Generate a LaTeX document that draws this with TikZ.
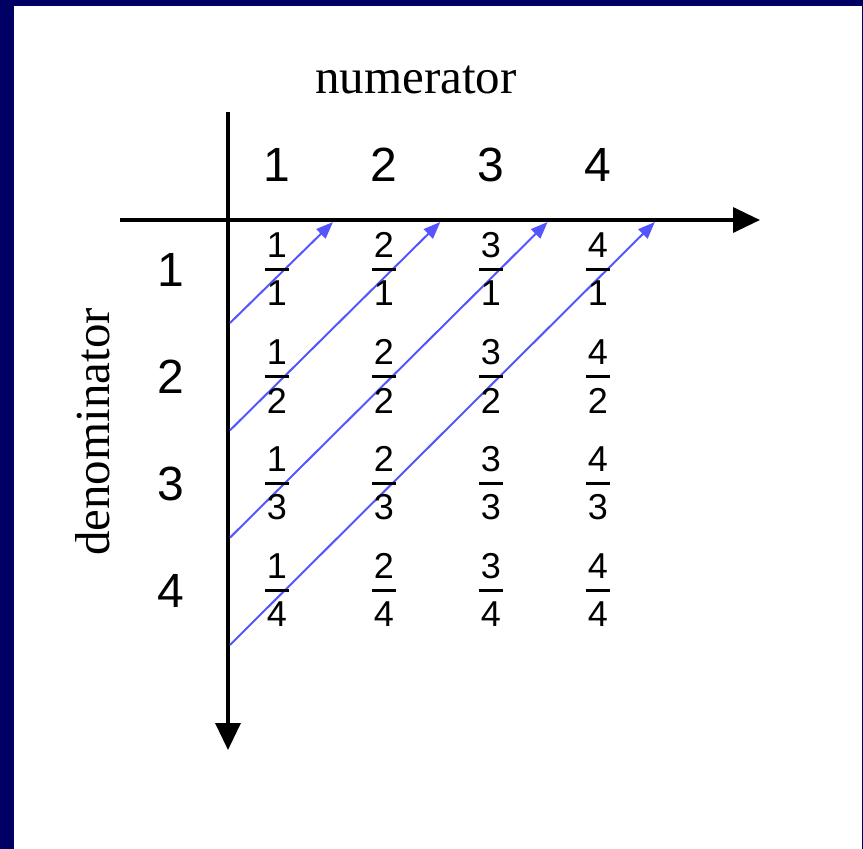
\documentclass[tikz,border=0pt]{standalone}
\usepackage{fontspec}
\setmainfont{Liberation Serif}
\newfontfamily\digitfont{Liberation Sans}
\usetikzlibrary{arrows.meta}
\definecolor{navyframe}{RGB}{0,0,100}
\definecolor{arrowblue}{RGB}{85,85,255}
\begin{document}
\begin{tikzpicture}[x=1pt,y=-1pt,
  axis/.style={line width=3.5pt,-{Triangle[length=27pt,width=25pt]}},
  diag/.style={arrowblue,line width=2pt,-{Triangle[length=17pt,width=13pt]}},
  hdr/.style={font=\digitfont\fontsize{48}{48}\selectfont,inner sep=0pt},
  fracdigit/.style={font=\digitfont\fontsize{36}{36}\selectfont,inner sep=0pt},
  fracbar/.style={fill=black,minimum width=24pt,minimum height=3pt,inner sep=0pt,outer sep=0pt},
  lbl/.style={font=\fontsize{49}{49}\selectfont,inner sep=0pt}]
\fill[navyframe] (0,0) rectangle (863,849);
\fill[white] (14,6) rectangle (862,849);
\useasboundingbox (0,0) rectangle (863,849);
% axes
\coordinate (hstart) at (120,220);
\coordinate (hend) at (760,220);
\coordinate (vstart) at (228,112);
\coordinate (vend) at (228,750);
\draw[axis] (hstart) -- (hend);
\draw[axis] (vstart) -- (vend);
% labels
\node[lbl,anchor=base] (numlbl) at (416,93) {numerator};
\node[lbl,anchor=base,rotate=90] (denlbl) at (109,432) {denominator};
% headers
\foreach \i in {1,...,4}{
  \pgfmathsetmacro{\cx}{277+107*(\i-1)}
  \pgfmathsetmacro{\ry}{270+107*(\i-1)}
  \node[hdr] (c\i) at (\cx,165) {\i};
  \node[hdr] (r\i) at (171,\ry) {\i};
}
% diagonal arrows
\foreach \k in {1,...,4}{
  \pgfmathsetmacro{\sy}{323+107.3*(\k-1)}
  \pgfmathsetmacro{\ex}{333+107.3*(\k-1)}
  \coordinate (s\k) at (230,\sy);
  \coordinate (e\k) at (\ex,222);
  \draw[diag] (s\k) -- (e\k);
}
% fractions
\foreach \n in {1,...,4}{
  \foreach \d in {1,...,4}{
    \pgfmathsetmacro{\fx}{277+107*(\n-1)}
    \pgfmathsetmacro{\fy}{269.5+107*(\d-1)}
    \node[fracdigit] (num\n\d) at (\fx,\fy-24.5) {\n};
    \node[fracbar] (bar\n\d) at (\fx,\fy) {};
    \node[fracdigit] (den\n\d) at (\fx,\fy+24) {\d};
  }
}
\end{tikzpicture}
\end{document}
